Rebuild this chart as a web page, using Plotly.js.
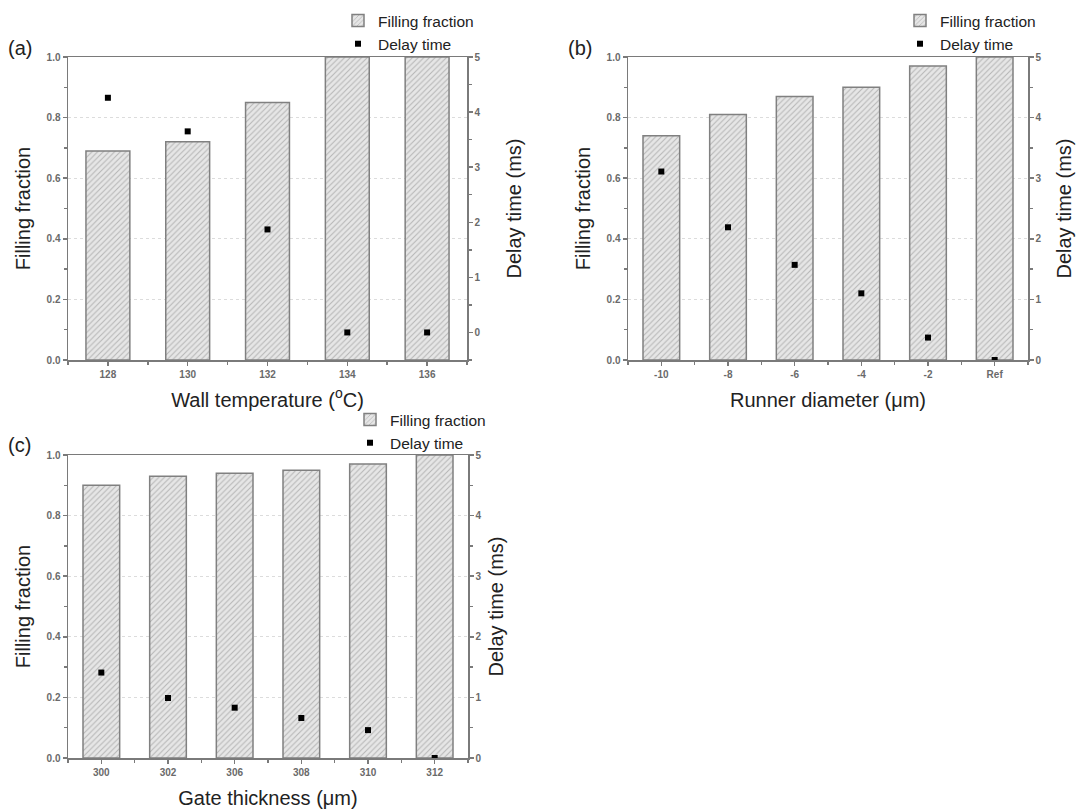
<!DOCTYPE html>
<html>
<head>
<meta charset="utf-8">
<script src="https://cdn.plot.ly/plotly-3.0.1.min.js"></script>
<style>html,body{margin:0;padding:0;background:#fff;}#chart{width:1080px;height:809px;}</style>
</head>
<body>
<div id="chart"></div>
<script>
// ---- data ----
const catsA = ['128', '130', '132', '134', '136'];
const fillA = [0.69, 0.72, 0.85, 1.0, 1.0];
const delayA = [4.26, 3.65, 1.87, 0, 0];

const catsB = ['-10', '-8', '-6', '-4', '-2', 'Ref'];
const fillB = [0.74, 0.81, 0.87, 0.90, 0.97, 1.0];
const delayB = [3.11, 2.19, 1.57, 1.10, 0.37, 0];

const catsC = ['300', '302', '306', '308', '310', '312'];
const fillC = [0.90, 0.93, 0.94, 0.95, 0.97, 1.0];
const delayC = [1.41, 0.99, 0.83, 0.66, 0.46, 0];

const xTitles = ['Wall temperature (<sup>o</sup>C)', 'Runner diameter (\u03bcm)', 'Gate thickness (\u03bcm)'];
const panelLabels = ['(a)', '(b)', '(c)'];

// ---- style ----
const FONT = 'Liberation Sans, Arial, sans-serif';
const AX = '#7a7a7a';
const tickFont = {family: FONT, size: 10, color: '#6a6a6a', weight: 'bold'};
const titleFont = {family: FONT, size: 20, color: '#222'};

function idx(c) { return c.map((_, i) => i); }
function bounds(c) { const b = []; for (let i = 0; i <= c.length; i++) b.push(i - 0.5); return b; }

function barTrace(cats, vals, xa, ya, leg) {
  return {
    type: 'bar', x: idx(cats), y: vals, xaxis: xa, yaxis: ya, width: 0.55,
    name: 'Filling fraction', legend: leg,
    marker: {
      color: '#e4e4e4',
      pattern: {shape: '/', fgcolor: '#b5b5b5', bgcolor: '#e6e6e6', size: 4, solidity: 0.25},
      line: {color: '#808080', width: 1.5}
    }
  };
}
function dotTrace(cats, vals, xa, ya, leg) {
  return {
    type: 'scatter', mode: 'markers', x: idx(cats), y: vals, xaxis: xa, yaxis: ya,
    name: 'Delay time', legend: leg,
    marker: {symbol: 'square', size: 6, color: '#000'}
  };
}

const data = [
  barTrace(catsA, fillA, 'x', 'y', 'legend'),
  dotTrace(catsA, delayA, 'x', 'y2', 'legend'),
  barTrace(catsB, fillB, 'x2', 'y3', 'legend2'),
  dotTrace(catsB, delayB, 'x2', 'y4', 'legend2'),
  barTrace(catsC, fillC, 'x3', 'y5', 'legend3'),
  dotTrace(catsC, delayC, 'x3', 'y6', 'legend3')
];

function xAxis(cats, dom, anchor, title) {
  return {
    domain: dom, anchor: anchor, range: [-0.5, cats.length - 0.5],
    tickmode: 'array', tickvals: idx(cats), ticktext: cats,
    ticks: 'outside', ticklen: 4, tickwidth: 1.5, tickcolor: AX,
    minor: {tickmode: 'array', tickvals: bounds(cats), ticks: 'outside', ticklen: 3, tickwidth: 1.5, tickcolor: AX},
    showline: true, linecolor: AX, linewidth: 1.5, mirror: true,
    showgrid: false, zeroline: false, tickfont: tickFont,
    title: {text: title, font: titleFont, standoff: 14},
    automargin: false, fixedrange: true
  };
}
function yLeft(dom, anchor) {
  return {
    domain: dom, anchor: anchor, range: [0, 1], dtick: 0.2, tick0: 0, tickformat: '.1f',
    ticks: 'outside', ticklen: 4, tickwidth: 1.5, tickcolor: AX,
    minor: {dtick: 0.1, ticks: 'outside', ticklen: 3, tickwidth: 1.5, tickcolor: AX, showgrid: false},
    showline: true, linecolor: AX, linewidth: 1.5,
    showgrid: true, gridcolor: '#dcdcdc', griddash: 'dot', gridwidth: 1,
    zeroline: false, tickfont: tickFont,
    title: {text: 'Filling fraction', font: titleFont, standoff: 10},
    automargin: false, fixedrange: true
  };
}
function yRight(over, anchor, rng, standoff) {
  return {
    overlaying: over, anchor: anchor, side: 'right', range: rng, dtick: 1, tick0: 0,
    ticks: 'outside', ticklen: 4, tickwidth: 1.5, tickcolor: AX,
    minor: {dtick: 0.5, tick0: 0, ticks: 'outside', ticklen: 3, tickwidth: 1.5, tickcolor: AX},
    showline: true, linecolor: AX, linewidth: 1.5,
    showgrid: false, zeroline: false, tickfont: tickFont,
    title: {text: 'Delay time (ms)', font: titleFont, standoff: standoff},
    automargin: false, fixedrange: true
  };
}

const W = 1080, H = 809;
const px = (a, b) => [a / W, b / W];
const py = (top, bot) => [1 - bot / H, 1 - top / H];

function legendAt(xp, yp) {
  return {
    x: xp / W, y: 1 - yp / H, xanchor: 'left', yanchor: 'top',
    font: {family: FONT, size: 15.5, color: '#222'}, bgcolor: 'rgba(0,0,0,0)',
    itemwidth: 30, tracegroupgap: 0, borderwidth: 0
  };
}

const layout = {
  width: W, height: H, margin: {l: 0, r: 0, t: 0, b: 0},
  paper_bgcolor: '#fff', plot_bgcolor: '#fff',
  font: {family: FONT},
  bargap: 0,
  xaxis: xAxis(catsA, px(68, 467), 'y', xTitles[0]),
  yaxis: yLeft(py(57, 360), 'x'),
  yaxis2: yRight('y', 'x', [-0.5, 5], 27),
  xaxis2: xAxis(catsB, px(628, 1028), 'y3', xTitles[1]),
  yaxis3: yLeft(py(57, 360), 'x2'),
  yaxis4: yRight('y3', 'x2', [0, 5], 16),
  xaxis3: xAxis(catsC, px(68, 468), 'y5', xTitles[2]),
  yaxis5: yLeft(py(455, 758), 'x3'),
  yaxis6: yRight('y5', 'x3', [0, 5], 8),
  legend: legendAt(338, 4),
  legend2: legendAt(900, 4),
  legend3: legendAt(350, 403),
  annotations: [
    {text: panelLabels[0], x: 6 / W, y: 1 - 48 / H},
    {text: panelLabels[1], x: 566 / W, y: 1 - 48 / H},
    {text: panelLabels[2], x: 6 / W, y: 1 - 445 / H}
  ].map(a => Object.assign(a, {xref: 'paper', yref: 'paper', xanchor: 'left', yanchor: 'middle', showarrow: false, font: {family: FONT, size: 20, color: '#222'}}))
};

Plotly.newPlot('chart', data, layout, {displayModeBar: false, staticPlot: true});
</script>
</body>
</html>
